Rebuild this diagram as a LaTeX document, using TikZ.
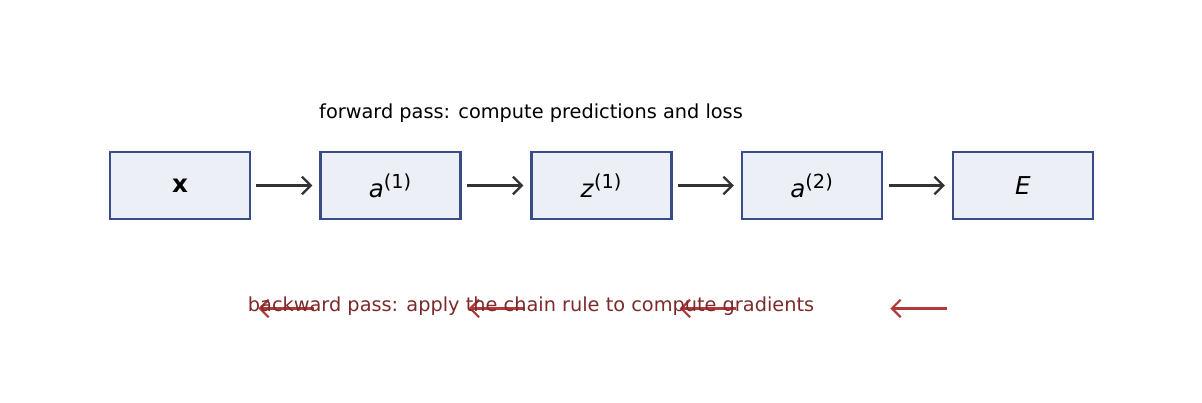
\documentclass[tikz,border=0pt]{standalone}
\usepackage{fontspec}
\setmainfont{DejaVu Sans}
\usetikzlibrary{arrows.meta}
\definecolor{bfill}{HTML}{ECEFF6}
\definecolor{bdraw}{HTML}{3A4C88}
\definecolor{rarr}{HTML}{B03A3A}
\definecolor{rtxt}{HTML}{7D2A2A}
\definecolor{darr}{HTML}{333333}
\tikzset{
  box/.style={draw=bdraw,fill=bfill,line width=1.4pt,minimum width=2.8cm,minimum height=1.34cm,inner sep=0pt,font=\fontsize{14}{16}\selectfont},
  farr/.style={-{Straight Barb[length=5pt,width=10pt]},draw=darr,line width=1.3pt},
  barr/.style={-{Straight Barb[length=5pt,width=10pt]},draw=rarr,line width=1.3pt},
}
\newcommand{\sx}[2]{\textit{#1}\textsuperscript{\fontsize{11}{12}\selectfont(#2)}}
\begin{document}
\begin{tikzpicture}[x=0.02cm,y=-0.02cm]
\useasboundingbox (0,0) rectangle (1202,402);
\node[box] (n1) at (180,185.5) {\textbf{x}};
\node[box] (n2) at (390.5,185.5) {\sx{a}{1}};
\node[box] (n3) at (601.5,185.5) {\sx{z}{1}};
\node[box] (n4) at (812,185.5) {\sx{a}{2}};
\node[box] (n5) at (1023,185.5) {\textit{E}};
\foreach \a/\b in {n1/n2,n2/n3,n3/n4,n4/n5}{
  \draw[farr] ([xshift=3]\a.east) -- ([xshift=-4]\b.west);
  \coordinate (s\a) at ([xshift=-3,yshift=-70]\b.west);
  \coordinate (e\a) at ([xshift=4,yshift=-70]\a.east);
  \draw[barr] (s\a) -- (e\a);
}
\node[font=\fontsize{11}{13}\selectfont] (ft) at (531,113) {forward pass: compute predictions and loss};
\node[font=\fontsize{11}{13}\selectfont,text=rtxt] (bt) at (531,306) {backward pass: apply the chain rule to compute gradients};
\end{tikzpicture}
\end{document}
